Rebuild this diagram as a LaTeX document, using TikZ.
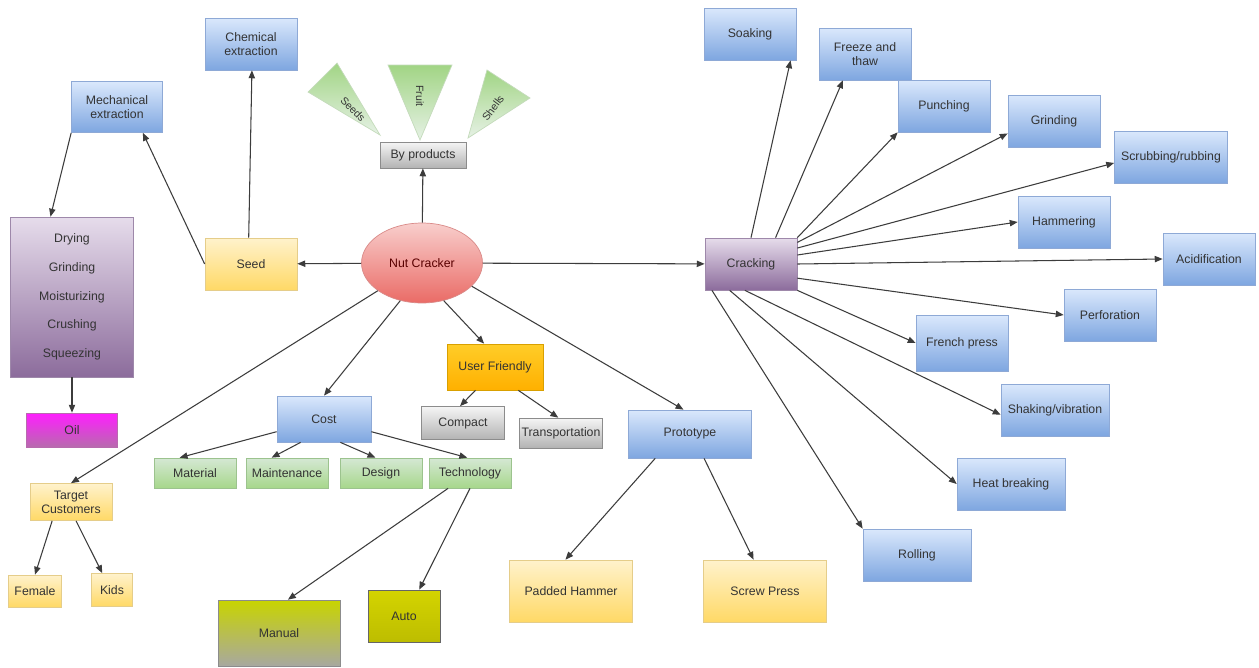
\documentclass[tikz,border=0pt]{standalone}
\usepackage{fontspec}
\setmainfont{Liberation Sans}
\usetikzlibrary{shapes.geometric,arrows.meta}
\definecolor{bluetop}{HTML}{DAE8FC}
\definecolor{bluebot}{HTML}{7EA6E0}
\definecolor{blueline}{HTML}{8EA9D6}
\definecolor{yeltop}{HTML}{FFF2CC}
\definecolor{yelbot}{HTML}{FFD966}
\definecolor{yelline}{HTML}{E5CD8A}
\definecolor{greentop}{HTML}{D5E8D4}
\definecolor{greenbot}{HTML}{97D077}
\definecolor{greenline}{HTML}{9CC38E}
\definecolor{purptop}{HTML}{E6DCEB}
\definecolor{purpbot}{HTML}{8C6C9C}
\definecolor{purpline}{HTML}{9E88AA}
\definecolor{graytop}{HTML}{F5F5F5}
\definecolor{graybot}{HTML}{B3B3B3}
\definecolor{grayline}{HTML}{8C8C8C}
\definecolor{redtop}{HTML}{F8CECC}
\definecolor{redbot}{HTML}{EA6B66}
\definecolor{redline}{HTML}{D98A88}
\definecolor{orangetop}{HTML}{FFCD28}
\definecolor{orangebot}{HTML}{FFB000}
\definecolor{orangeline}{HTML}{D9A000}
\definecolor{oiltop}{HTML}{FF1EFF}
\definecolor{oilbot}{HTML}{B86AAE}
\definecolor{manualtop}{HTML}{C8D400}
\definecolor{manualbot}{HTML}{A8A8A0}
\definecolor{autotop}{HTML}{D4D400}
\definecolor{autobot}{HTML}{BDBD00}
\definecolor{linkcol}{HTML}{3C3C3C}
\definecolor{textcol}{HTML}{333333}
\tikzset{
  box/.style={rectangle, draw, inner sep=1pt, align=center, text=textcol,
    minimum width=1.84cm, minimum height=1.04cm, font=\fontsize{7}{8}\selectfont},
  bluebox/.style={box, top color=bluetop, bottom color=bluebot, draw=blueline},
  yelbox/.style={box, top color=yeltop, bottom color=yelbot, draw=yelline},
  greenbox/.style={box, top color=greentop, bottom color=greenbot!85, draw=greenline,
    minimum width=1.64cm, minimum height=0.6cm},
  purpbox/.style={box, top color=purptop, bottom color=purpbot, draw=purpline},
  graybox/.style={box, top color=graytop, bottom color=graybot, draw=grayline},
  tri/.style={top color=greenbot!90, bottom color=greentop!60, draw=greenline!60},
  tritext/.style={inner sep=0pt, text=textcol, font=\fontsize{6}{6}\selectfont},
  link/.style={draw=linkcol, line width=0.6pt, -{Triangle[length=4.5pt,width=3.6pt]}}
}
\begin{document}
\begin{tikzpicture}[x=0.02cm,y=-0.02cm]
  \useasboundingbox (0,0) rectangle (1259,667);
  \fill[white] (0,0) rectangle (1259,667);
  \path[tri] (308,92) -- (337,63) -- (380,135) -- cycle;
  \path[tri] (388,65) -- (452,65) -- (420,140) -- cycle;
  \path[tri] (487,70) -- (530,98) -- (468,138) -- cycle;
  \draw
    (353,109) node[tritext, rotate=-45] (seeds) {Seeds}
    (420,96) node[tritext, rotate=-90] (fruit) {Fruit}
    (493,108) node[tritext, rotate=53] (shells) {Shells};
  \draw
    (422,263) node[ellipse, draw=redline, top color=redtop, bottom color=redbot,
      minimum width=2.42cm, minimum height=1.6cm, text=red!35!black,
      font=\fontsize{7}{8}\selectfont] (nut) {Nut Cracker}
    (423,155) node[graybox, minimum width=1.72cm, minimum height=0.52cm] (byp) {By products}
    (251,264) node[yelbox] (seed) {Seed}
    (251,44) node[bluebox] (chem) {Chemical\\extraction}
    (117,107) node[bluebox, minimum width=1.82cm, minimum height=1.02cm] (mech) {Mechanical\\extraction}
    (72,297) node[purpbox, minimum width=2.46cm, minimum height=3.2cm,
      font=\fontsize{7}{16.3}\selectfont] (drying)
      {Drying\\Grinding\\Moisturizing\\Crushing\\Squeezing}
    (72,430) node[box, top color=oiltop, bottom color=oilbot, draw=oilbot,
      minimum width=1.82cm, minimum height=0.68cm] (oil) {Oil}
    (71,502) node[yelbox, minimum width=1.64cm, minimum height=0.74cm] (target) {Target\\Customers}
    (35,591) node[yelbox, minimum width=1.06cm, minimum height=0.64cm] (female) {Female}
    (112,590) node[yelbox, minimum width=0.82cm, minimum height=0.66cm] (kids) {Kids}
    (324,419) node[bluebox, minimum width=1.88cm, minimum height=0.92cm] (cost) {Cost}
    (195,473) node[greenbox] (material) {Material}
    (287,473) node[greenbox] (maint) {Maintenance}
    (381,473) node[greenbox] (design) {Design}
    (470,473) node[greenbox] (tech) {Technology}
    (495,367) node[box, top color=orangetop, bottom color=orangebot, draw=orangeline,
      minimum width=1.92cm, minimum height=0.92cm] (user) {User Friendly}
    (463,423) node[graybox, minimum width=1.66cm, minimum height=0.66cm] (compact) {Compact}
    (561,433) node[graybox, minimum width=1.66cm, minimum height=0.6cm] (transport) {Transportation}
    (690,434) node[bluebox, minimum width=2.46cm, minimum height=0.96cm] (proto) {Prototype}
    (279,633) node[box, top color=manualtop, bottom color=manualbot, draw=grayline,
      minimum width=2.44cm, minimum height=1.32cm] (manual) {Manual}
    (404,616) node[box, top color=autotop, bottom color=autobot, draw=black!60,
      minimum width=1.44cm, minimum height=1.04cm] (auto) {Auto}
    (571,591) node[yelbox, minimum width=2.46cm, minimum height=1.24cm] (padded) {Padded Hammer}
    (765,591) node[yelbox, minimum width=2.46cm, minimum height=1.24cm] (screw) {Screw Press}
    (751,264) node[purpbox] (crack) {Cracking};
  \draw
    (750,34) node[bluebox] (soak) {Soaking}
    (865,54) node[bluebox] (freeze) {Freeze and\\thaw}
    (944,106) node[bluebox] (punch) {Punching}
    (1054,121) node[bluebox] (grind) {Grinding}
    (1171,157) node[bluebox, minimum width=2.26cm] (scrub) {Scrubbing/rubbing}
    (1064,222) node[bluebox] (hammering) {Hammering}
    (1209,259) node[bluebox] (acid) {Acidification}
    (1110,315) node[bluebox] (perf) {Perforation}
    (962,343) node[bluebox, minimum height=1.12cm] (french) {French press}
    (1055,410) node[bluebox, minimum width=2.16cm] (shake) {Shaking/vibration}
    (1011,484) node[bluebox, minimum width=2.16cm] (heat) {Heat breaking}
    (917,555) node[bluebox, minimum width=2.16cm] (roll) {Rolling};
  \begin{scope}[link]
    \draw (nut) to (seed);
    \draw (nut) to (byp);
    \draw (nut) to (crack);
    \draw (seed.95) to (chem.-88);
    \draw (seed.west) to (mech.-45);
    \draw (mech.south west) to (drying.105);
    \draw (drying) to (oil);
    \draw (nut) to (target.north);
    \draw (target.225) to (female.north);
    \draw (target.-75) to (kids.120);
    \draw (nut.240) to (cost.north);
    \draw (cost.195) to (material.135);
    \draw (cost.225) to (maint.135);
    \draw (cost.-55) to (design.110);
    \draw (cost.-15) to (tech.100);
    \draw (tech.215) to (manual.75);
    \draw (tech.south) to (auto.60);
    \draw (nut.-60) to (user.115);
    \draw (user.-130) to (compact.100);
    \draw (user.-45) to (transport.100);
    \draw (nut.-25) to (proto.105);
    \draw (proto.215) to (padded.100);
    \draw (proto.-60) to (screw.110);
    \draw (crack.north) to (soak.-33);
    \draw (crack.47) to (freeze.230);
    \draw (crack.north east) to (punch.south west);
    \draw (crack.25) to (grind.195);
    \draw (crack.19) to (scrub.186);
    \draw (crack.11) to (hammering.west);
    \draw (crack.east) to (acid.west);
    \draw (crack.-17) to (perf.west);
    \draw (crack.south east) to (french.west);
    \draw (crack.-103) to (shake.185);
    \draw (crack.231) to (heat.west);
    \draw (crack.214) to (roll.north west);
  \end{scope}
\end{tikzpicture}
\end{document}
